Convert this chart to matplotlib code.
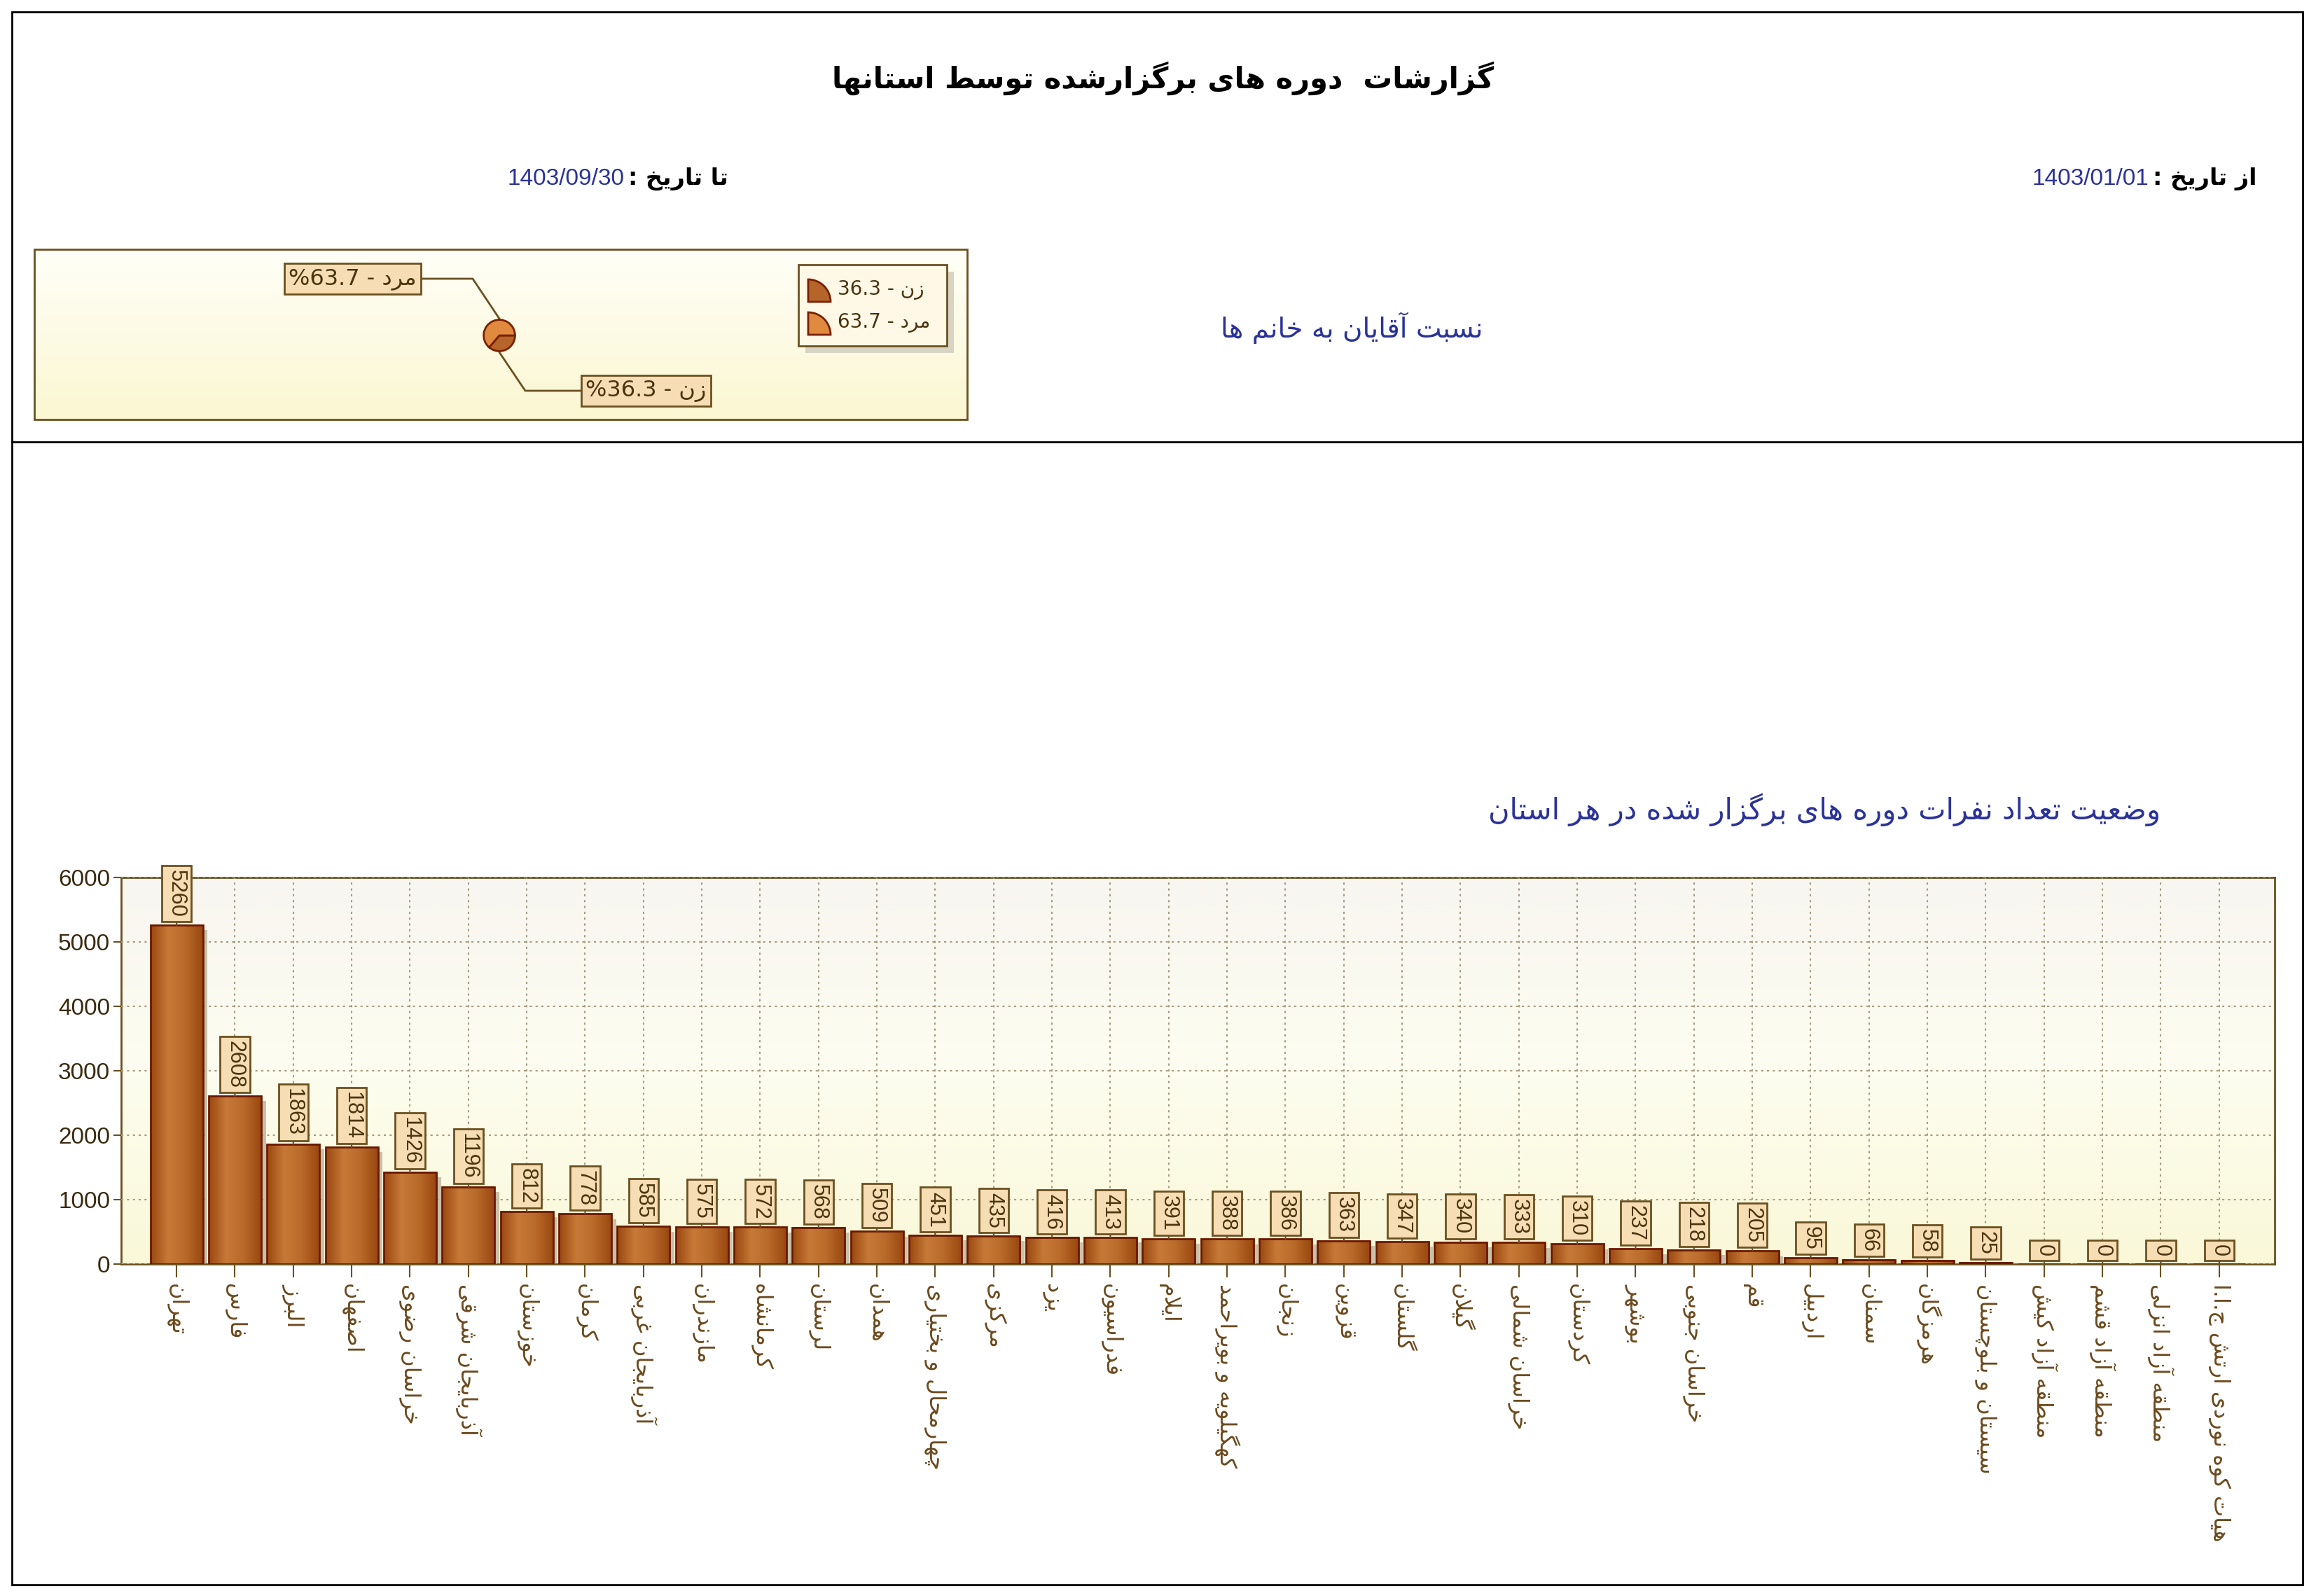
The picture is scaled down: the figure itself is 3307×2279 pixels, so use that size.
import unicodedata
import numpy as np
import matplotlib
matplotlib.use("Agg")
import matplotlib.pyplot as plt
from matplotlib.patches import Rectangle, Wedge

# ---------------- data ----------------
provinces = ["تهران", "فارس", "البرز", "اصفهان", "خراسان رضوی", "آذربایجان شرقی",
             "خوزستان", "کرمان", "آذربایجان غربی", "مازندران", "کرمانشاه", "لرستان",
             "همدان", "چهارمحال و بختیاری", "مرکزی", "یزد", "فدراسیون", "ایلام",
             "کهگیلویه و بویراحمد", "زنجان", "قزوین", "گلستان", "گیلان", "خراسان شمالی",
             "کردستان", "بوشهر", "خراسان جنوبی", "قم", "اردبیل", "سمنان", "هرمزگان",
             "سیستان و بلوچستان", "منطقه آزاد کیش", "منطقه آزاد قشم", "منطقه آزاد انزلی",
             "هیات کوه نوردی ارتش ج.ا.ا"]
counts = [5260, 2608, 1863, 1814, 1426, 1196, 812, 778, 585, 575, 572, 568,
          509, 451, 435, 416, 413, 391, 388, 386, 363, 347, 340, 333,
          310, 237, 218, 205, 95, 66, 58, 25, 0, 0, 0, 0]
yticks = [0, 1000, 2000, 3000, 4000, 5000, 6000]
gender_labels = ["زن", "مرد"]
gender_pct = [36.3, 63.7]
title = "گزارشات  دوره های برگزارشده توسط استانها"
from_label, from_date = "از تاریخ :", "1403/01/01"
to_label, to_date = "تا تاریخ :", "1403/09/30"
pie_title = "نسبت آقایان به خانم ها"
bar_title = "وضعیت تعداد نفرات دوره های برگزار شده در هر استان"

# ---------------- simple Persian shaping ----------------
RIGHT_ONLY = set("اآأإدذرزژوة")
DUAL = set("بپتثجچحخسشصضطظعغفقکگلمنهیئيك")

def _form(ch, kind):
    try:
        return unicodedata.lookup(unicodedata.name(ch) + " " + kind + " FORM")
    except Exception:
        return ch

def shape(s):
    out = []
    chars = list(s)
    i = 0
    n = len(chars)
    def joins_fwd(k):
        return k >= 0 and chars[k] in DUAL
    while i < n:
        c = chars[i]
        prev_j = joins_fwd(i - 1)
        if c == "ل" and i + 1 < n and chars[i + 1] in "اآ":
            if chars[i + 1] == "ا":
                out.append("\uFEFC" if prev_j else "\uFEFB")
            else:
                out.append("\uFEF6" if prev_j else "\uFEF5")
            i += 2
            continue
        nxt = i + 1 < n and (chars[i + 1] in DUAL or chars[i + 1] in RIGHT_ONLY)
        if c in DUAL:
            if prev_j and nxt:
                out.append(_form(c, "MEDIAL"))
            elif prev_j:
                out.append(_form(c, "FINAL"))
            elif nxt:
                out.append(_form(c, "INITIAL"))
            else:
                out.append(_form(c, "ISOLATED"))
        elif c in RIGHT_ONLY:
            out.append(_form(c, "FINAL") if prev_j else _form(c, "ISOLATED"))
        else:
            out.append(c)
        i += 1
    return "".join(out)[::-1]

FA = "DejaVu Sans"
NUM = "Liberation Sans"
BROWN = "#6b4a1e"
BLUE = "#2b3399"

W, H = 3307, 2279
fig = plt.figure(figsize=(W / 100, H / 100), dpi=100)
fig.patch.set_facecolor("white")

def frac(x0, y0, x1, y1):
    return [x0 / W, 1 - y1 / H, (x1 - x0) / W, (y1 - y0) / H]

# overlay
ov = fig.add_axes([0, 0, 1, 1], zorder=0)
ov.set_xlim(0, W); ov.set_ylim(H, 0); ov.axis("off")
ov.add_patch(Rectangle((17, 17), 3271, 2246, fill=False, ec="black", lw=2))
ov.plot([17, 3288], [631, 631], color="black", lw=2)

ov.text(1660, 112, shape(title), fontsize=30, family=FA, ha="center", va="center", weight="bold")
t1 = ov.text(3222, 255, shape(from_label), fontsize=24, family=FA, ha="right", va="center", weight="bold")
ov.annotate(from_date, xy=(0, 0.5), xycoords=t1, xytext=(-4, 0), textcoords="offset points",
            fontsize=24, family=NUM, ha="right", va="center", color=BLUE)
t2 = ov.text(1040, 255, shape(to_label), fontsize=24, family=FA, ha="right", va="center", weight="bold")
ov.annotate(to_date, xy=(0, 0.5), xycoords=t2, xytext=(-4, 0), textcoords="offset points",
            fontsize=24, family=NUM, ha="right", va="center", color=BLUE)
ov.text(1930, 468, shape(pie_title), fontsize=28, family=FA, ha="center", va="center", color=BLUE)
ov.text(3085, 1156, shape(bar_title), fontsize=30, family=FA, ha="right", va="center", color=BLUE)

# pie box background
grad = np.linspace(0, 1, 256)[:, None]
cmap_bg = matplotlib.colors.LinearSegmentedColormap.from_list("bg", ["#fffff8", "#fbf7d2"])
ov.imshow(grad, extent=(49, 1381, 599, 356), cmap=cmap_bg, aspect="auto", zorder=1)
ov.add_patch(Rectangle((49, 356), 1332, 243, fill=False, ec="#6b5020", lw=2, zorder=2))

# leader lines and pie labels
pcx, pcy = 713, 479
ov.plot([713, 675, 595], [455, 398, 398], color="#6b5020", lw=2, zorder=3)
ov.plot([713, 750, 832], [503, 558, 558], color="#6b5020", lw=2, zorder=3)
lbl_box = dict(boxstyle="square,pad=0.2", fc="#f6ddb4", ec="#6b5020", lw=2)
ov.text(595, 398, "%" + f"{gender_pct[1]} - " + shape(gender_labels[1]),
        fontsize=23, family=FA, ha="right", va="center", color="#4a3510", bbox=lbl_box, zorder=4)
ov.text(836, 558, "%" + f"{gender_pct[0]} - " + shape(gender_labels[0]),
        fontsize=23, family=FA, ha="left", va="center", color="#4a3510", bbox=lbl_box, zorder=4)

# legend
ov.add_patch(Rectangle((1150, 388), 212, 116, fc="#d8d4c4", ec="none", zorder=3))
ov.add_patch(Rectangle((1140, 378), 212, 116, fc="#fff8e6", ec="#6b5020", lw=2, zorder=4))
pie_cols = ["#b5642a", "#e08a40"]
for k, yy in enumerate([414, 461]):
    ov.add_patch(Wedge((1154, yy + 17), 32, -90, 0, fc=pie_cols[k],
                       ec="#7a2000", lw=2, zorder=5))
    ov.text(1196, yy, f"{gender_pct[k]} - " + shape(gender_labels[k]), fontsize=20, family=FA,
            ha="left", va="center", color="#4a3510", zorder=5)

# pie
pax = fig.add_axes(frac(pcx - 28, pcy - 28, pcx + 28, pcy + 28), zorder=5)
pax.pie(gender_pct, colors=pie_cols, startangle=0, counterclock=False,
        wedgeprops=dict(edgecolor="#7a2000", linewidth=2))
pax.set_aspect("equal")

# ---------------- bar chart ----------------
ax = fig.add_axes(frac(173, 1253, 3248, 1805), zorder=2)
n = len(provinces)
x = np.arange(n)
ax.set_xlim(-0.95, n - 0.05)
ax.set_ylim(0, 6000)
ax.imshow(grad, extent=(-0.95, n - 0.05, 0, 6000), origin="upper",
          cmap=matplotlib.colors.LinearSegmentedColormap.from_list("bg2", ["#f8f6f0", "#fdfdf0", "#faf8d8"]),
          aspect="auto", zorder=0)
ax.set_yticks(yticks)
ax.set_xticks(x)
ax.grid(True, color="#a89c80", linestyle=(0, (1.5, 2.5)), lw=1.5, zorder=1)
bw = 0.9
bar_cmap = matplotlib.colors.LinearSegmentedColormap.from_list(
    "bar", ["#9a4810", "#c77a38", "#b86a2a", "#9a4810"])
hgrad = np.linspace(0, 1, 64)[None, :]
for xi, v in zip(x, counts):
    if v > 0:
        ax.add_patch(Rectangle((xi - bw / 2 + 0.08, 0), bw, max(v - 80, 0), fc="#c8c0a8", ec="none", zorder=2))
        ax.imshow(hgrad, extent=(xi - bw / 2, xi + bw / 2, 0, v), cmap=bar_cmap,
                  aspect="auto", zorder=3)
ax.bar(x, counts, width=bw, fill=False, edgecolor="#6b1800", lw=2, zorder=4)
for xi, v in zip(x, counts):
    ax.annotate(str(v), (xi, v), xytext=(0, 8), textcoords="offset points",
                rotation=-90, ha="center", va="bottom", fontsize=22, family=NUM,
                color="#4a3510", bbox=dict(boxstyle="square,pad=0.2", fc="#f6ddb4", ec="#6b5020", lw=2),
                arrowprops=dict(arrowstyle="-", color="#6b5020", lw=1.5, shrinkA=0, shrinkB=0),
                zorder=6, annotation_clip=False)
ax.set_xticklabels([shape(p) for p in provinces], rotation=-90, fontsize=23, family=FA, color=BROWN)
ax.set_yticklabels([str(t) for t in yticks], fontsize=24, family=NUM, color="#3a2a10")
ax.tick_params(axis="x", direction="out", length=14, width=1.5, color="#6b5020", pad=6)
ax.tick_params(axis="y", direction="out", length=8, width=1.5, color="#6b5020")
for sp in ax.spines.values():
    sp.set_color("#6b5020"); sp.set_linewidth(2)
ax.set_axisbelow(False)

fig.savefig("out.png", dpi=100)
